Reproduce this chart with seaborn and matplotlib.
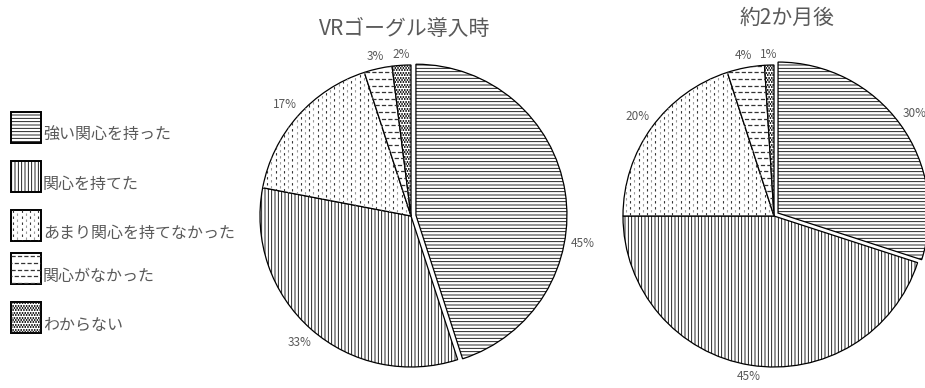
import numpy as np
import matplotlib
matplotlib.use("Agg")
import matplotlib.pyplot as plt
import seaborn as sns
from matplotlib.collections import LineCollection
from matplotlib.patches import Rectangle

# ---- data ----
categories = ["強い関心を持った", "関心を持てた", "あまり関心を持てなかった", "関心がなかった", "わからない"]
before_values = [45, 33, 17, 3, 2]
after_values = [30, 45, 20, 4, 1]
titles = ["VRゴーグル導入時", "約2か月後"]

# ---- style ----
sns.set_theme(style="white")
plt.rcParams['font.family'] = ['Noto Sans CJK JP', 'DejaVu Sans']
plt.rcParams['hatch.linewidth'] = 0.6
plt.rcParams['lines.scale_dashes'] = False

TEXT = "#595959"
W, H = 925, 388
fig = plt.figure(figsize=(W / 100, H / 100), dpi=100)

builtin_hatch = ["-----", "|||||", "", "", ""]
custom_kind = [None, None, "vdash", "hdash", "dots"]

# pattern parameters in pixels: spacing, dash on, dash off, line width, colours
PATTERNS = {
    "vdash": dict(step=4.2, on=2.4, off=3.6, lw=0.8, col=["#333333", "#9a9a9a"], vertical=True),
    "hdash": dict(step=6.6, on=4.2, off=2.2, lw=0.9, col=["#333333", "#333333"], vertical=False),
    "dots": dict(step=2.4, on=1.5, off=1.2, lw=1.3, col=["#111111", "#111111"], vertical=False),
}


def add_dashes(ax, patch, kind, scale, box):
    """Dashed hatch lines clipped to a patch. scale = pixels per data unit."""
    x0, x1, y0, y1 = box
    p = PATTERNS[kind]
    step, on, off = p["step"], p["on"], p["off"]
    if p["vertical"]:
        pos = np.arange(x0 + step / scale / 2, x1, step / scale)
        make = lambda q: [(q, y0), (q, y1)]
    else:
        pos = np.arange(y0 + step / scale / 2, y1, step / scale)
        make = lambda q: [(x0, q), (x1, q)]
    for gi, grp in enumerate([pos[0::2], pos[1::2]]):
        segs = [make(q) for q in grp]
        off_pt = gi * (on + off) / 2 * 0.72
        lc = LineCollection(segs, colors=p["col"][gi], linewidths=p["lw"],
                            linestyles=[(off_pt, (on * 0.72, off * 0.72))])
        ax.add_collection(lc, autolim=False)
        lc.set_clip_path(patch)


# ---- legend (manual, pixel coordinates) ----
axl = fig.add_axes([0, 0, 1, 1])
axl.set_xlim(0, W)
axl.set_ylim(H, 0)
axl.axis('off')
box_tops = [112, 161, 210, 253, 302]
for i, (cat, top) in enumerate(zip(categories, box_tops)):
    rect = Rectangle((11, top), 30, 31, facecolor="white", edgecolor="black",
                     linewidth=1.4, hatch=builtin_hatch[i] or None)
    axl.add_patch(rect)
    if custom_kind[i]:
        add_dashes(axl, rect, custom_kind[i], 1.0, (11, 41, top, top + 31))
    axl.text(43, top + 23, cat, fontsize=11.5, color=TEXT, ha="left", va="center")


# ---- pies ----
def draw_pie(values, cx, cy, r, title, tx, ty, label_angle_override=None):
    L = 1.5
    ax = fig.add_axes([(cx - L * r) / W, (H - cy - L * r) / H, 2 * L * r / W, 2 * L * r / H])
    expl = 5.0 / r
    explode = [expl] + [0] * (len(values) - 1)
    wedges, _ = ax.pie(values, startangle=90, counterclock=False, explode=explode,
                       colors=["white"] * len(values),
                       wedgeprops=dict(edgecolor="black", linewidth=0.9))
    for i, w in enumerate(wedges):
        if builtin_hatch[i]:
            w.set_hatch(builtin_hatch[i])
        if custom_kind[i]:
            add_dashes(ax, w, custom_kind[i], r, (-1.3, 1.3, -1.3, 1.3))
    total = sum(values)
    for i, (w, v) in enumerate(zip(wedges, values)):
        mid = np.deg2rad((w.theta1 + w.theta2) / 2)
        if label_angle_override and i in label_angle_override:
            mid = np.deg2rad(label_angle_override[i])
        c, s = np.cos(mid), np.sin(mid)
        d = 1 + (explode[i] * r + 4 + 13 * abs(c) + 6 * abs(s)) / r
        ax.text(d * c, d * s, f"{v / total * 100:.0f}%", fontsize=8.5, color=TEXT,
                ha="center", va="center", clip_on=False)
    ax.set_aspect('auto')
    ax.set_xlim(-L, L)
    ax.set_ylim(-L, L)
    ax.axis('off')
    ax.patch.set_visible(False)
    fig.text(tx / W, 1 - ty / H, title, fontsize=15, color=TEXT, ha="center", va="center")


draw_pie(before_values, 411, 216, 151, titles[0], 405, 29, label_angle_override={0: -9})
draw_pie(after_values, 774, 216, 151, titles[1], 787, 18)

fig.savefig("out.png", dpi=100)
